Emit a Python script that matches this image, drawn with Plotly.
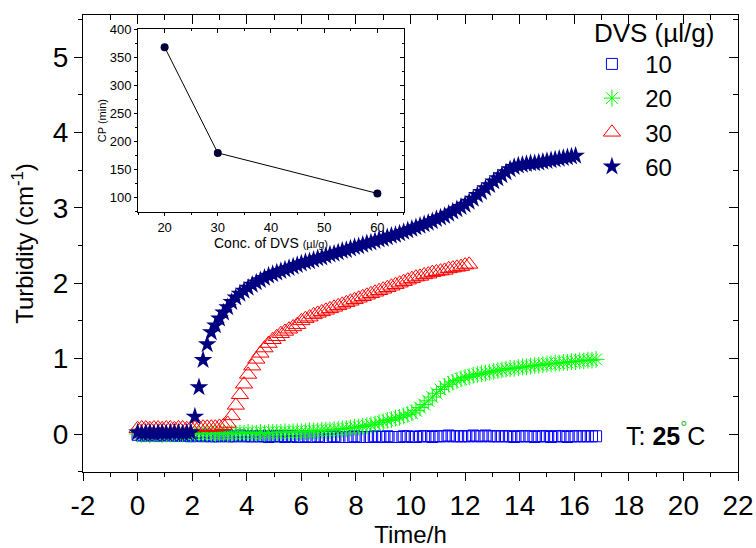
import plotly.graph_objects as go

# ---------------- data ----------------
time_h = [
    0.00, 0.15, 0.30, 0.45, 0.60, 0.75, 0.90, 1.05, 1.20, 1.35,
    1.50, 1.65, 1.80, 1.95, 2.10, 2.25, 2.40, 2.55, 2.70, 2.85,
    3.00, 3.15, 3.30, 3.45, 3.60, 3.75, 3.90, 4.05, 4.20, 4.35,
    4.50, 4.65, 4.80, 4.95, 5.10, 5.25, 5.40, 5.55, 5.70, 5.85,
    6.00, 6.15, 6.30, 6.45, 6.60, 6.75, 6.90, 7.05, 7.20, 7.35,
    7.50, 7.65, 7.80, 7.95, 8.10, 8.25, 8.40, 8.55, 8.70, 8.85,
    9.00, 9.15, 9.30, 9.45, 9.60, 9.75, 9.90, 10.05, 10.20, 10.35,
    10.50, 10.65, 10.80, 10.95, 11.10, 11.25, 11.40, 11.55, 11.70, 11.85,
    12.00, 12.15, 12.30, 12.45, 12.60, 12.75, 12.90, 13.05, 13.20, 13.35,
    13.50, 13.65, 13.80, 13.95, 14.10, 14.25, 14.40, 14.55, 14.70, 14.85,
    15.00, 15.15, 15.30, 15.45, 15.60, 15.75, 15.90, 16.05, 16.20, 16.35,
    16.50, 16.65, 16.80,
]

dvs10 = [
    -0.01, -0.02, -0.02, -0.01, -0.02, -0.02, -0.02, -0.01, -0.02, -0.02,
    -0.02, -0.02, -0.02, -0.03, -0.02, -0.02, -0.03, -0.02, -0.03, -0.03,
    -0.03, -0.02, -0.03, -0.03, -0.03, -0.02, -0.03, -0.03, -0.03, -0.03,
    -0.03, -0.03, -0.04, -0.03, -0.03, -0.03, -0.04, -0.03, -0.03, -0.04,
    -0.04, -0.03, -0.04, -0.04, -0.03, -0.04, -0.04, -0.04, -0.03, -0.04,
    -0.04, -0.04, -0.04, -0.03, -0.04, -0.04, -0.04, -0.04, -0.03, -0.04,
    -0.04, -0.03, -0.04, -0.04, -0.04, -0.03, -0.03, -0.04, -0.04, -0.03,
    -0.03, -0.03, -0.04, -0.03, -0.03, -0.03, -0.02, -0.03, -0.03, -0.03,
    -0.03, -0.03, -0.02, -0.03, -0.03, -0.02, -0.03, -0.03, -0.03, -0.03,
    -0.03, -0.03, -0.04, -0.03, -0.03, -0.03, -0.03, -0.04, -0.03, -0.03,
    -0.03, -0.04, -0.03, -0.03, -0.03, -0.04, -0.03, -0.03, -0.03, -0.03,
    -0.03, -0.03, -0.03,
]

dvs20 = [
    0.00, -0.01, 0.00, -0.01, 0.00, 0.00, -0.01, 0.00, 0.00, 0.00,
    0.00, 0.00, 0.01, 0.00, 0.00, 0.01, 0.00, 0.01, 0.01, 0.00,
    0.01, 0.01, 0.00, 0.01, 0.01, 0.01, 0.01, 0.02, 0.01, 0.01,
    0.02, 0.01, 0.02, 0.02, 0.02, 0.02, 0.03, 0.02, 0.03, 0.03,
    0.03, 0.03, 0.04, 0.04, 0.04, 0.05, 0.05, 0.05, 0.06, 0.06,
    0.07, 0.07, 0.08, 0.09, 0.09, 0.10, 0.11, 0.12, 0.13, 0.15,
    0.16, 0.18, 0.19, 0.21, 0.22, 0.24, 0.26, 0.28, 0.31, 0.35,
    0.39, 0.44, 0.49, 0.54, 0.59, 0.63, 0.66, 0.69, 0.71, 0.73,
    0.75, 0.76, 0.78, 0.79, 0.80, 0.81, 0.82, 0.83, 0.84, 0.85,
    0.86, 0.87, 0.87, 0.88, 0.89, 0.89, 0.90, 0.91, 0.91, 0.92,
    0.93, 0.93, 0.94, 0.94, 0.95, 0.95, 0.96, 0.96, 0.97, 0.97,
    0.98, 0.98, 0.99,
]

dvs30 = [
    0.07, 0.08, 0.08, 0.07, 0.08, 0.08, 0.07, 0.08, 0.08, 0.07,
    0.08, 0.08, 0.07, 0.08, 0.08, 0.09, 0.09, 0.09, 0.09, 0.09,
    0.10, 0.11, 0.14, 0.24, 0.38, 0.52, 0.66, 0.79, 0.90, 0.99,
    1.07, 1.14, 1.20, 1.25, 1.29, 1.33, 1.36, 1.39, 1.42, 1.45,
    1.50, 1.53, 1.55, 1.58, 1.60, 1.62, 1.64, 1.66, 1.68, 1.70,
    1.72, 1.74, 1.76, 1.78, 1.80, 1.82, 1.84, 1.86, 1.88, 1.90,
    1.92, 1.94, 1.96, 1.98, 2.00, 2.02, 2.04, 2.06, 2.08, 2.09,
    2.11, 2.12, 2.14, 2.15, 2.16, 2.17, 2.19, 2.20, 2.21, 2.22,
    2.24, 2.25,
]

dvs60 = [
    0.02, 0.01, 0.02, 0.02, 0.01, 0.02, 0.02, 0.01, 0.02, 0.02,
    0.02, 0.01, 0.02, 0.02, 0.23, 0.62, 0.98, 1.19, 1.35, 1.44,
    1.53, 1.61, 1.68, 1.75, 1.81, 1.86, 1.90, 1.94, 1.98, 2.01,
    2.04, 2.07, 2.10, 2.12, 2.14, 2.16, 2.18, 2.20, 2.22, 2.24,
    2.26, 2.28, 2.29, 2.31, 2.33, 2.34, 2.36, 2.38, 2.39, 2.41,
    2.43, 2.44, 2.46, 2.48, 2.49, 2.51, 2.53, 2.54, 2.56, 2.58,
    2.59, 2.61, 2.63, 2.64, 2.66, 2.68, 2.70, 2.72, 2.74, 2.76,
    2.78, 2.80, 2.82, 2.85, 2.87, 2.89, 2.92, 2.95, 2.98, 3.01,
    3.04, 3.08, 3.12, 3.17, 3.21, 3.26, 3.30, 3.35, 3.39, 3.43,
    3.47, 3.51, 3.54, 3.56, 3.57, 3.58, 3.59, 3.59, 3.60, 3.61,
    3.62, 3.63, 3.64, 3.65, 3.66, 3.67, 3.68, 3.69,
]

series_names = ["10", "20", "30", "60"]

# inset
inset_conc = [20, 30, 60]
inset_cp = [368, 180, 108]

x_tickvals = [-2, 0, 2, 4, 6, 8, 10, 12, 14, 16, 18, 20, 22]
x_ticktext = ["-2", "0", "2", "4", "6", "8", "10", "12", "14", "16", "18", "20", "22"]
y_tickvals = [0, 1, 2, 3, 4, 5]
inset_x_ticks = [20, 30, 40, 50, 60]
inset_y_ticks = [100, 150, 200, 250, 300, 350, 400]

FONT = "Liberation Sans, Arial, sans-serif"
PAD = "\u00a0\u00a0"

fig = go.Figure()

styles = [
    (dvs10, dict(symbol="square-open", size=11, color="#0000ff", line=dict(width=1, color="#0000ff"))),
    (dvs20, dict(symbol="asterisk-open", size=14, color="#00ff00", line=dict(width=1, color="#00ff00"))),
    (dvs30, dict(symbol="triangle-up-open", size=15, color="#ff0000", line=dict(width=1, color="#ff0000"))),
    (dvs60, dict(symbol="star", size=14, color="#000080", line=dict(width=0))),
]
for name, (vals, mk) in zip(series_names, styles):
    fig.add_trace(go.Scatter(
        x=time_h[:len(vals)], y=vals, mode="markers", name=PAD + name,
        marker=mk, xaxis="x", yaxis="y",
    ))

# dummy trace for mirrored (inside) tick axes
fig.add_trace(go.Scatter(x=[], y=[], xaxis="x3", yaxis="y3", showlegend=False, hoverinfo="skip"))

# inset
fig.add_trace(go.Scatter(
    x=inset_conc, y=inset_cp, mode="lines+markers", showlegend=False,
    line=dict(color="black", width=1),
    marker=dict(symbol="circle", size=8, color="#000033", line=dict(width=0)),
    xaxis="x2", yaxis="y2",
))
fig.add_trace(go.Scatter(x=[], y=[], xaxis="x4", yaxis="y4", showlegend=False, hoverinfo="skip"))

XR = [-2, 22]
YR = [-0.504, 5.557]
IXR = [15, 65]
IYR = [75, 400]

main_ax_common = dict(showgrid=False, zeroline=False, showline=True, linecolor="black",
                      linewidth=1.3, mirror=True, tickcolor="black", tickwidth=1.2,
                      tickfont=dict(family=FONT, size=28, color="black"))

fig.update_layout(
    width=756, height=548,
    margin=dict(l=83, r=18, t=15, b=76, autoexpand=False),
    paper_bgcolor="white", plot_bgcolor="white",
    font=dict(family=FONT, color="black"),
    xaxis=dict(range=XR, domain=[0, 1], anchor="y", tickmode="array",
               tickvals=x_tickvals, ticktext=x_ticktext, ticks="outside", ticklen=8,
               minor=dict(dtick=1, tick0=0, ticks="outside", ticklen=4, tickcolor="black", tickwidth=1.2),
               title=dict(text="Time/h", font=dict(family=FONT, size=24), standoff=0),
               **main_ax_common),
    yaxis=dict(range=YR, domain=[0, 1], anchor="x", tickmode="array",
               tickvals=y_tickvals, ticks="outside", ticklen=8,
               minor=dict(dtick=0.5, tick0=0, ticks="outside", ticklen=4, tickcolor="black", tickwidth=1.2),
               title=dict(text="Turbidity (cm<sup>-1</sup>)", font=dict(family=FONT, size=24), standoff=12),
               **main_ax_common),
    xaxis3=dict(range=XR, overlaying="x", anchor="y3", side="top", tickmode="array",
                tickvals=x_tickvals, ticks="inside", ticklen=9, tickcolor="black", tickwidth=1.2,
                minor=dict(dtick=1, tick0=0, ticks="inside", ticklen=5, tickcolor="black", tickwidth=1.2),
                showticklabels=False, showgrid=False, zeroline=False, showline=False),
    yaxis3=dict(range=YR, overlaying="y", anchor="x3", side="right", tickmode="array",
                tickvals=y_tickvals, ticks="inside", ticklen=9, tickcolor="black", tickwidth=1.2,
                minor=dict(dtick=0.5, tick0=0, ticks="inside", ticklen=5, tickcolor="black", tickwidth=1.2),
                showticklabels=False, showgrid=False, zeroline=False, showline=False),
    xaxis2=dict(range=IXR, domain=[0.084, 0.490], anchor="y2", tickmode="array",
                tickvals=inset_x_ticks, ticks="outside", ticklen=3, tickcolor="black", tickwidth=1,
                minor=dict(dtick=5, tick0=0, ticks="outside", ticklen=2, tickcolor="black"),
                showgrid=False, zeroline=False, showline=True, linecolor="black", linewidth=1, mirror=True,
                tickfont=dict(family=FONT, size=13),
                title=dict(text="Conc. of DVS <span style='font-size:11px'>(µl/g)</span>",
                           font=dict(family=FONT, size=14), standoff=0)),
    yaxis2=dict(range=IYR, domain=[0.569, 0.969], anchor="x2", tickmode="array",
                tickvals=inset_y_ticks, ticks="outside", ticklen=3, tickcolor="black", tickwidth=1,
                minor=dict(dtick=25, tick0=0, ticks="outside", ticklen=2, tickcolor="black"),
                showgrid=False, zeroline=False, showline=True, linecolor="black", linewidth=1, mirror=True,
                tickfont=dict(family=FONT, size=13),
                title=dict(text="CP (min)", font=dict(family=FONT, size=11), standoff=0)),
    xaxis4=dict(range=IXR, overlaying="x2", anchor="y4", side="top", tickmode="array",
                tickvals=inset_x_ticks, ticks="inside", ticklen=4, tickcolor="black",
                minor=dict(dtick=5, tick0=0, ticks="inside", ticklen=2, tickcolor="black"),
                showticklabels=False, showgrid=False, zeroline=False, showline=False),
    yaxis4=dict(range=IYR, overlaying="y2", anchor="x4", side="right", tickmode="array",
                tickvals=inset_y_ticks, ticks="inside", ticklen=4, tickcolor="black",
                minor=dict(dtick=25, tick0=0, ticks="inside", ticklen=2, tickcolor="black"),
                showticklabels=False, showgrid=False, zeroline=False, showline=False),
    legend=dict(x=0.777, y=1.0153, xanchor="left", yanchor="top", bgcolor="rgba(0,0,0,0)",
                font=dict(family=FONT, size=24, color="black"),
                title=dict(text="DVS (µl/g)", font=dict(family=FONT, size=26)),
                itemclick=False),
    showlegend=True,
    annotations=[dict(
        x=19.35, y=0, xref="x", yref="y", showarrow=False, xanchor="center", yanchor="middle",
        text="T: <b>25</b><sup><span style='color:#33bb33'>°</span></sup>C",
        font=dict(family=FONT, size=25, color="black"),
    )],
)

fig.write_html("out.html")
